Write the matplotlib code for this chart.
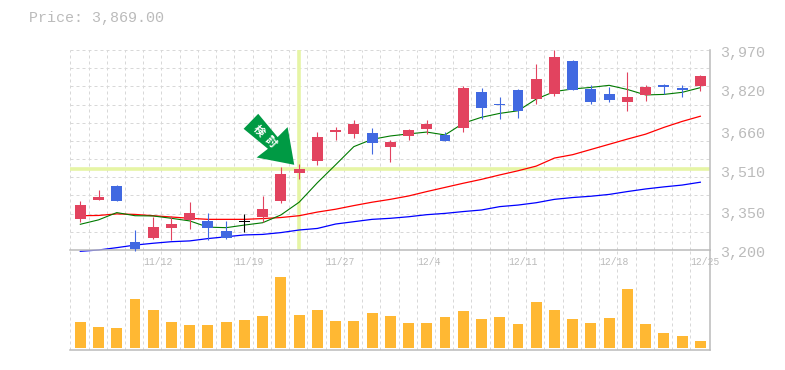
import numpy as np
import matplotlib
matplotlib.use("Agg")
import matplotlib.pyplot as plt
from matplotlib.patches import Polygon
from matplotlib.transforms import IdentityTransform

price_text = "Price: 3,869.00"
date_idx = [4, 9, 14, 19, 24, 29, 34]
date_labels = ["11/12", "11/19", "11/27", "12/4", "12/11", "12/18", "12/25"]
price_ticks = [3970, 3820, 3660, 3510, 3350, 3200]
signal_idx = 12
signal_price = 3510

# body top, body bottom, wick top, wick bottom
body_top = [3373, 3404, 3446, 3231, 3288, 3300, 3342, 3311, 3273, 3310, 3358, 3493, 3512, 3635, 3662, 3685, 3650, 3616, 3662, 3685, 3643, 3824, 3808, 3762, 3816, 3858, 3943, 3928, 3820, 3801, 3789, 3827, 3835, 3824, 3870]
body_bot = [3319, 3392, 3389, 3204, 3246, 3285, 3315, 3285, 3246, 3308, 3327, 3389, 3496, 3543, 3654, 3647, 3612, 3596, 3639, 3666, 3620, 3670, 3747, 3758, 3735, 3781, 3800, 3816, 3770, 3777, 3770, 3797, 3827, 3816, 3831]
wick_top = [3389, 3431, 3450, 3277, 3328, 3331, 3385, 3342, 3311, 3338, 3408, 3519, 3531, 3654, 3673, 3700, 3670, 3623, 3666, 3700, 3654, 3831, 3824, 3789, 3820, 3916, 3970, 3931, 3835, 3827, 3885, 3835, 3839, 3835, 3874]
wick_bot = [3308, 3392, 3389, 3196, 3242, 3238, 3281, 3238, 3242, 3269, 3308, 3381, 3473, 3527, 3623, 3631, 3570, 3539, 3623, 3646, 3620, 3654, 3704, 3704, 3708, 3762, 3793, 3816, 3762, 3770, 3735, 3773, 3799, 3789, 3812]
candle_color = ["red", "red", "blue", "blue", "red", "red", "red", "blue", "blue", "black", "red", "red", "red", "red", "red", "red", "blue", "red", "red", "red", "blue", "red", "blue", "blue", "blue", "red", "red", "blue", "blue", "blue", "red", "red", "blue", "blue", "red"]

ma_short = [3299, 3316, 3344, 3332, 3331, 3322, 3312, 3288, 3286, 3296, 3305, 3335, 3384, 3459, 3528, 3598, 3626, 3639, 3647, 3654, 3643, 3688, 3711, 3726, 3736, 3781, 3810, 3820, 3826, 3834, 3818, 3797, 3799, 3807, 3825]
ma_mid = [3332, 3333, 3339, 3337, 3332, 3327, 3322, 3318, 3318, 3318, 3321, 3325, 3332, 3346, 3357, 3371, 3384, 3395, 3408, 3425, 3441, 3457, 3472, 3489, 3505, 3523, 3554, 3567, 3587, 3607, 3627, 3646, 3672, 3695, 3715]
ma_long = [3195, 3200, 3209, 3219, 3226, 3232, 3235, 3244, 3251, 3258, 3260, 3267, 3277, 3283, 3300, 3309, 3318, 3322, 3328, 3336, 3341, 3348, 3354, 3367, 3373, 3382, 3395, 3402, 3407, 3414, 3425, 3435, 3443, 3450, 3461]

volume = [26, 21, 20, 49, 38, 26, 23, 23, 26, 28, 32, 71, 33, 38, 27, 27, 35, 32, 25, 25, 31, 37, 29, 31, 24, 46, 38, 29, 25, 30, 59, 24, 15, 12, 7]

colors = {"red": "#e2435f", "blue": "#4169e1", "black": "#000000"}
gray = "#bbbbbb"
grid_c = "#d8d8d8"
signal_c = "#e6f5a5"
mono = "Liberation Mono"
x = np.arange(len(volume))
xlim = (-0.565, 34.53)
W, H = 785, 370

fig = plt.figure(figsize=(W / 100, H / 100), dpi=100, facecolor="white")
vax = fig.add_axes([70 / W, 1 - 350 / H, 640 / W, 100 / H])
ax = fig.add_axes([70 / W, 1 - 250 / H, 640 / W, 200 / H])

for a in (ax, vax):
    a.set_xlim(*xlim)
    a.set_xticks(x - 0.55)
    a.set_xticklabels([])
    a.tick_params(length=0, labelleft=False)
    a.grid(axis="x", color=grid_c, lw=0.72, ls=(0, (3, 3)))
    a.set_axisbelow(True)
    for s in ["left", "top"]:
        a.spines[s].set_visible(False)
    for s in ["right", "bottom"]:
        a.spines[s].set_color(gray)
        a.spines[s].set_linewidth(1.1)

# price panel
ax.set_ylim(3200, 3970)
ax.set_yticks(np.linspace(3200, 3970, 12))
ax.set_yticklabels([])
ax.grid(axis="y", color=grid_c, lw=0.72, ls=(0, (3, 3)))

ax.axhline(signal_price, color=signal_c, lw=2.6, zorder=1.5)
ax.axvline(signal_idx, color=signal_c, lw=2.6, zorder=1.5, ymin=0.005)

ax.plot(x, ma_long, color="#0000ff", lw=0.9, zorder=2, clip_on=False)
ax.plot(x, ma_mid, color="#ff0000", lw=0.9, zorder=2)
ax.plot(x, ma_short, color="#007a00", lw=0.8, zorder=2)

for i in x:
    c = colors[candle_color[i]]
    ax.vlines(i, wick_bot[i], wick_top[i], color=c, lw=0.8, zorder=3, clip_on=False)
    h = body_top[i] - body_bot[i]
    ax.bar(i, h, bottom=body_bot[i], width=0.6, color=c, zorder=3)

for p, lab in zip(price_ticks, [f"{v:,}" for v in price_ticks]):
    ax.annotate(lab, xy=(1, p), xycoords=("axes fraction", "data"), xytext=(7.2, -2.2),
                textcoords="offset points", ha="left", va="center", color=gray,
                fontsize=10.8, family=mono, annotation_clip=False)

for i, lab in zip(date_idx, date_labels):
    ax.annotate(lab, xy=(i - 0.55, 3200), xytext=(0, -8.6), textcoords="offset points",
                ha="left", va="center", color=gray, fontsize=7, family=mono,
                annotation_clip=False, zorder=6)

# signal arrow, offsets in pixels from its tip
fig.canvas.draw()
tip = ax.transData.transform((signal_idx - 0.27, 3528))
arrow = [(0, 0), (-6.6, -37.7), (-16.6, -27.7), (-36, -51), (-50.6, -36), (-26.3, -16), (-37.6, -7.3)]
pts = [(tip[0] + p[0], tip[1] - p[1]) for p in arrow]
fig.add_artist(Polygon(pts, closed=True, facecolor="#009a44", edgecolor="none", transform=IdentityTransform(), zorder=5))
fig.text(259 / W, 1 - 131 / H, "検", color="white", fontsize=8, rotation=-45, ha="center", va="center",
         family=["Noto Sans CJK JP", "DejaVu Sans"], fontweight="bold", zorder=6)
fig.text(271 / W, 1 - 142 / H, "討", color="white", fontsize=8, rotation=-45, ha="center", va="center",
         family=["Noto Sans CJK JP", "DejaVu Sans"], fontweight="bold", zorder=6)

# volume panel
vax.bar(x, volume, width=0.6, color="#ffb833", zorder=3)
vax.set_ylim(-2, 98)
vax.set_yticks([])

fig.text(29 / W, 1 - 18 / H, price_text, color=gray, fontsize=10.8, family=mono, ha="left", va="center")

fig.savefig("out.png", dpi=100)
